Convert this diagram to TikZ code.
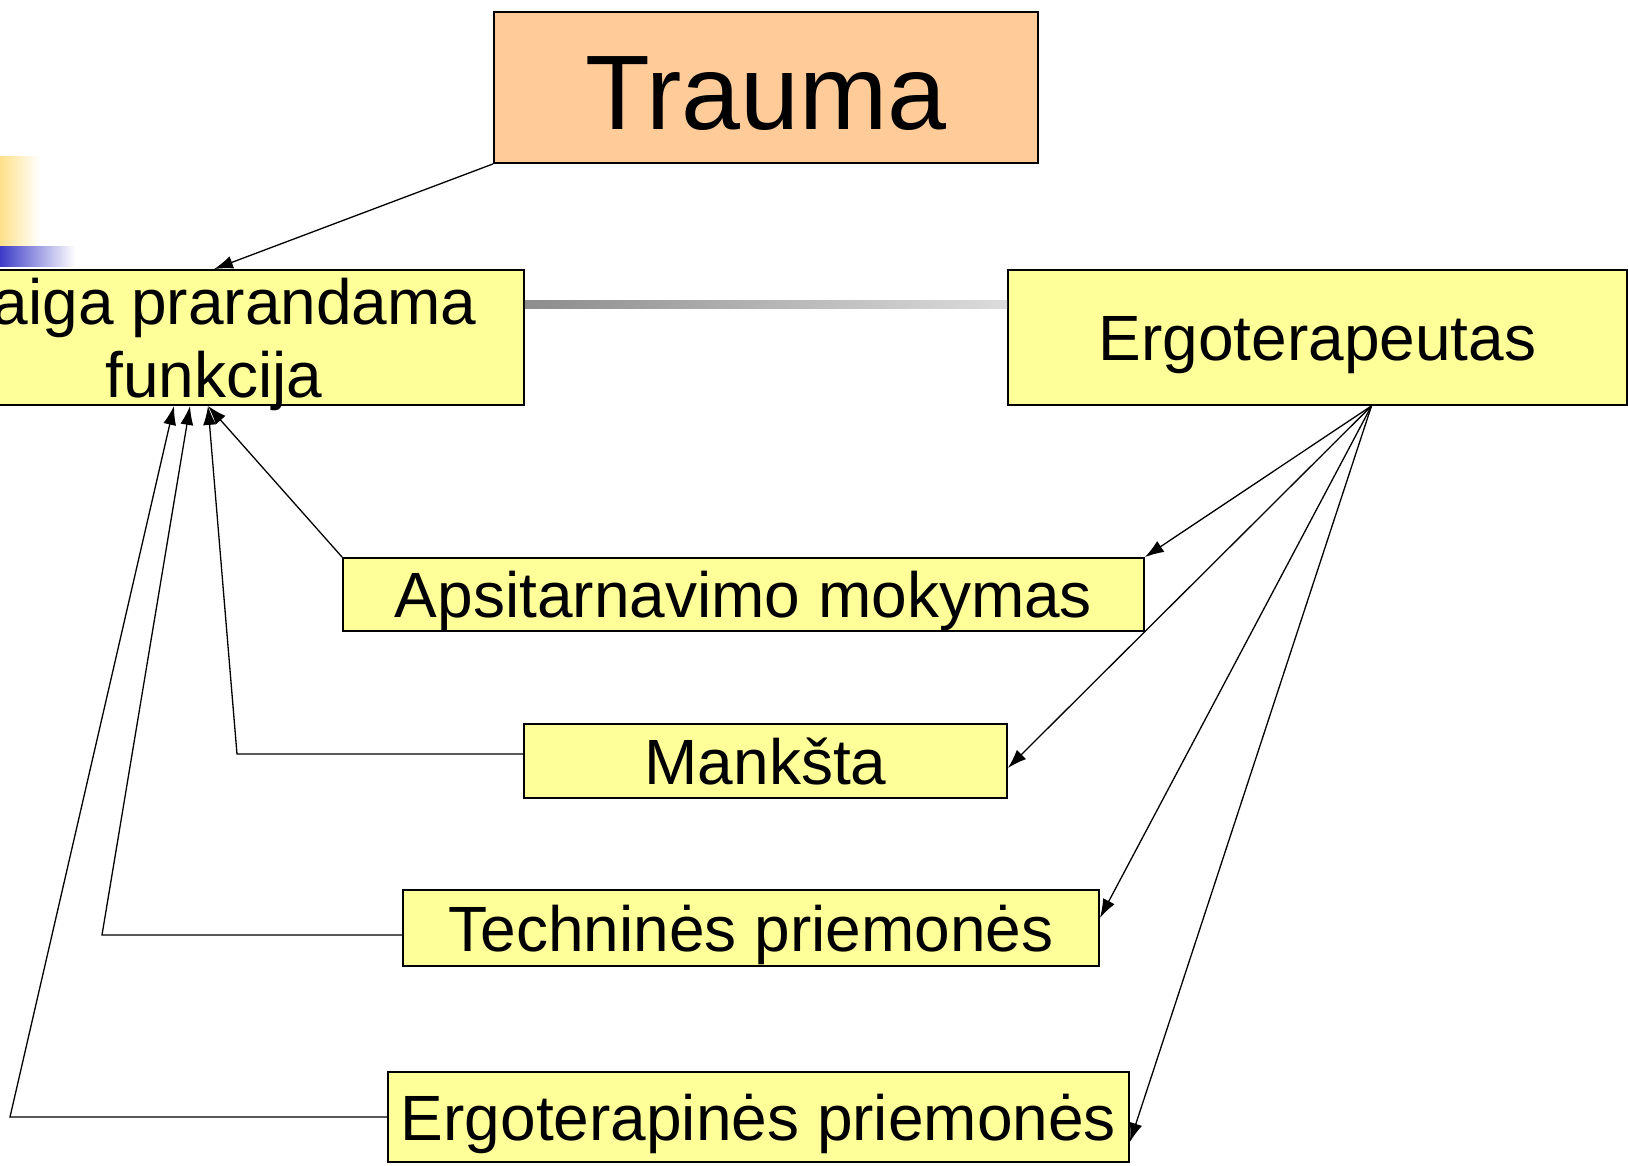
\documentclass[tikz,border=0pt]{standalone}
\usepackage{fontspec}
\setmainfont{Liberation Sans}
\usetikzlibrary{arrows.meta}
\definecolor{boxyellow}{HTML}{FFFF99}
\definecolor{boxpeach}{HTML}{FFCC99}
\definecolor{decoyellow}{HTML}{FFE08A}
\definecolor{decoblue}{HTML}{3C3CC8}
\definecolor{bargray}{HTML}{8C8C8C}
\definecolor{barlight}{HTML}{DCDCDC}
\tikzstyle{box} = [draw=black, line width=0.9pt, fill=boxyellow, inner sep=0pt, align=center, text depth=0pt, font=\fontsize{32}{36.5}\selectfont]
\tikzstyle{oneline} = [box, text height=23pt]
\tikzstyle{arrow} = [draw, -{Latex[length=9.5pt,width=6.5pt]}, line width=0.65pt]

\begin{document}
\begin{tikzpicture}[x=0.5pt, y=-0.5pt]
\useasboundingbox (0,0) rectangle (1628,1166);
\clip (0,0) rectangle (1628,1166);

%% corner decoration
\shade[left color=decoyellow, right color=white] (0,157) rectangle (40,247);
\shade[left color=decoblue, right color=white] (0,247) rectangle (75,267);

%% Top row
\node[box, fill=boxpeach, minimum width=272pt, minimum height=75.5pt, text height=42pt, font=\fontsize{53}{60}\selectfont] (trauma) at (766,87.5) {Trauma};
\node[box, minimum width=310pt, minimum height=67.5pt] (func) at (214,337.5) {Staiga prarandama\hspace*{0.3em}\\funkcija};
\node[oneline, minimum width=309.5pt, minimum height=67.5pt] (ergo) at (1317.5,337.5) {Ergoterapeutas};
\shade[left color=bargray, right color=barlight] (func.east |- 0,301) rectangle (ergo.west |- 0,309);

%% Methods
\node[oneline, minimum width=400.5pt, minimum height=36.5pt] (apsi) at (743.5,594.5) {Apsitarnavimo mokymas};
\node[oneline, minimum width=241.5pt, minimum height=37pt] (mank) at (765.5,761) {Mankšta};
\node[oneline, minimum width=348pt, minimum height=38pt] (tech) at (751,928) {Techninės priemonės};
\node[oneline, minimum width=370.5pt, minimum height=45pt] (ergp) at (758.5,1117) {Ergoterapinės priemonės};

%% arrows into the function box
\coordinate (ftip1) at ([xshift=-3pt]func.south);
\coordinate (ftip2) at ([xshift=-12pt]func.south);
\coordinate (ftip3) at ([xshift=-20pt]func.south);
\coordinate (mbend) at (237,754);
\coordinate (tbend) at (102,935);
\coordinate (ebend) at (10,1117);
\draw[arrow] (trauma.south west) -- (func.north);
\draw[arrow] (apsi.north west) -- (ftip1);
\draw[arrow] ([yshift=3.5pt]mank.west) -- (mbend) -- (ftip1);
\draw[arrow] ([yshift=-3.5pt]tech.west) -- (tbend) -- (ftip2);
\draw[arrow] (ergp.west) -- (ebend) -- (ftip3);

%% arrows from the therapist
\coordinate (esrc) at ([xshift=27pt]ergo.south);
\draw[arrow] (esrc) -- (apsi.north east);
\draw[arrow] (esrc) -- ([yshift=-3.5pt]mank.east);
\draw[arrow] (esrc) -- ([yshift=5pt]tech.east);
\draw[arrow] (esrc) -- ([yshift=-12.5pt]ergp.east);
\end{tikzpicture}
\end{document}
